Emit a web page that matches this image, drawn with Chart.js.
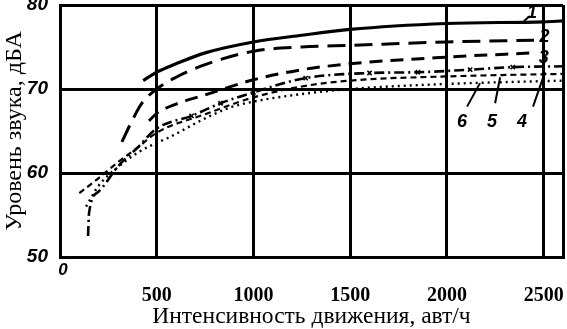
<!DOCTYPE html>
<html>
<head>
<meta charset="utf-8">
<script src="https://cdn.jsdelivr.net/npm/chart.js@4"></script>
<style>
html,body{margin:0;padding:0;background:#fff;}
#wrap{width:567px;height:329px;}
</style>
</head>
<body>
<div id="wrap"><canvas id="c" width="567" height="329"></canvas></div>
<script>
// ---- data ----
const xTicks = [0, 500, 1000, 1500, 2000, 2500];
const yTicks = [50, 60, 70, 80];
const seriesNames = ['1', '2', '3', '4', '5', '6'];

const c1x = [430, 500, 600, 750, 1000, 1250, 1500, 2000, 2500, 2600];
const c1y = [71.0, 72.0, 73.0, 74.3, 75.6, 76.4, 77.1, 77.8, 78.0, 78.1];

const c2x = [320, 370, 420, 500, 600, 750, 1000, 1250, 1500, 2000, 2450];
const c2y = [63.7, 66.1, 68.2, 70.0, 71.4, 72.9, 74.5, 75.0, 75.2, 75.6, 75.8];

const c3x = [460, 500, 600, 750, 1000, 1250, 1500, 2000, 2450];
const c3y = [66.2, 67.1, 68.2, 69.3, 71.1, 72.3, 73.0, 73.8, 74.3];

const c4x = [145, 150, 200, 300, 400, 500, 680, 830, 1000, 1270, 1600, 1850, 2120, 2340, 2600];
const c4y = [52.5, 55.2, 57.8, 60.8, 63.0, 65.3, 66.8, 68.3, 69.6, 71.3, 71.9, 72.0, 72.3, 72.6, 72.7];

const c5x = [100, 200, 300, 400, 500, 750, 1000, 1250, 1500, 2000, 2600];
const c5y = [57.6, 59.4, 61.3, 63.0, 64.8, 67.0, 69.0, 70.3, 71.0, 71.5, 71.8];

const c6x = [135, 200, 300, 400, 500, 560, 750, 880, 1000, 1250, 1500, 2000, 2600];
const c6y = [56.0, 58.5, 60.7, 62.4, 63.6, 64.2, 66.5, 67.8, 68.5, 69.4, 70.0, 70.6, 71.0];

const xTitle = 'Интенсивность движения, авт/ч';
const yTitle = 'Уровень звука, дБА';

// ---- build ----
function pts(xs, ys){ return xs.map((v,i)=>({x:v, y:ys[i]})); }
const xs = [c1x,c2x,c3x,c4x,c5x,c6x];
const ys = [c1y,c2y,c3y,c4y,c5y,c6y];
const dashes = [[], [18,9], [13,8], [10,4,2,4], [6,4], [2,4]];
const widths = [3.2, 3, 3, 2.6, 2.2, 2.4];

const datasets = seriesNames.map((n,i)=>({
  label: n,
  data: pts(xs[i], ys[i]),
  borderColor: '#000',
  backgroundColor: '#000',
  borderWidth: widths[i],
  borderDash: dashes[i],
  cubicInterpolationMode: 'monotone',
  pointRadius: i===3 ? (ctx)=> (ctx.raw && ctx.raw.x>=600 && ctx.raw.x<=2400 ? 3 : 0) : 0,
  pointStyle: 'crossRot',
  pointBorderWidth: 1.6,
  fill: false
}));

const labelPlugin = {
  id: 'curveLabels',
  afterDatasetsDraw(chart){
    const {ctx, scales:{x, y}} = chart;
    ctx.save();
    ctx.fillStyle = '#000';
    ctx.strokeStyle = '#000';
    ctx.lineWidth = 2;
    ctx.font = 'italic bold 18px "Liberation Sans", Arial, sans-serif';
    ctx.textAlign = 'center';
    ctx.textBaseline = 'middle';
    const labels = [
      {t:'1', p:[2440,79.05], l:[[2398,78.1],[2429,78.7]]},
      {t:'2', p:[2505,76.2]},
      {t:'3', p:[2500,73.7]},
      {t:'4', p:[2388,66.1], l:[[2445,67.9],[2507,72.0]]},
      {t:'5', p:[2233,66.1], l:[[2249,68.3],[2275,71.4]]},
      {t:'6', p:[2078,66.1], l:[[2104,67.9],[2171,70.7]]}
    ];
    labels.forEach(o=>{
      if (o.l){
        ctx.beginPath();
        ctx.moveTo(x.getPixelForValue(o.l[0][0]), y.getPixelForValue(o.l[0][1]));
        ctx.lineTo(x.getPixelForValue(o.l[1][0]), y.getPixelForValue(o.l[1][1]));
        ctx.stroke();
      }
      ctx.fillText(o.t, x.getPixelForValue(o.p[0]), y.getPixelForValue(o.p[1]));
    });
    // origin "0" label
    ctx.font = 'italic bold 17px "Liberation Sans", Arial, sans-serif';
    ctx.fillText(String(xTicks[0]), x.getPixelForValue(xTicks[0]) + 3, y.bottom + 13);
    ctx.restore();
  }
};

new Chart(document.getElementById('c'), {
  type: 'line',
  data: { datasets },
  options: {
    responsive: false,
    animation: false,
    devicePixelRatio: 1,
    layout: { padding: { top: 5, right: 4, left: 0, bottom: 0 } },
    plugins: { legend: { display: false }, tooltip: { enabled: false } },
    scales: {
      x: {
        type: 'linear',
        min: 0, max: 2600,
        afterBuildTicks(scale){
          scale.ticks = xTicks.concat([2600]).map(v=>({value:v}));
        },
        afterFit(scale){
          scale.height = 72;
          scale.paddingLeft = 0; scale.paddingRight = 0;
          scale.paddingTop = 0; scale.paddingBottom = 0;
        },
        grid: { color: '#000', lineWidth: 3, drawTicks: false },
        border: { display: true, color: '#000', width: 3 },
        ticks: {
          padding: 27,
          color: '#000',
          maxRotation: 0,
          autoSkip: false,
          font: { family: '"Liberation Serif", "Times New Roman", serif', size: 20, weight: 'bold' },
          callback: (v)=> (v === 0 || v === 2600) ? '' : String(v)
        },
        title: {
          display: true, text: xTitle, color: '#000',
          font: { family: '"Liberation Serif", "Times New Roman", serif', size: 23.5, lineHeight: 1.0 },
          padding: { top: 0, bottom: 0 }
        }
      },
      y: {
        min: 50, max: 80,
        afterBuildTicks(scale){ scale.ticks = yTicks.map(v=>({value:v})); },
        afterFit(scale){
          scale.width = 60;
          scale.paddingLeft = 0; scale.paddingRight = 0;
          scale.paddingTop = 0; scale.paddingBottom = 0;
        },
        grid: { color: '#000', lineWidth: 3, drawTicks: false },
        border: { display: true, color: '#000', width: 3 },
        ticks: {
          padding: 12,
          align: 'inner',
          color: '#000',
          font: { family: '"Liberation Sans", Arial, sans-serif', size: 19, weight: 'bold', style: 'italic' }
        },
        title: {
          display: true, text: yTitle, color: '#000',
          font: { family: '"Liberation Serif", "Times New Roman", serif', size: 24, lineHeight: 1.0 },
          padding: { top: 3, bottom: 0 }
        }
      }
    }
  },
  plugins: [labelPlugin]
});
</script>
</body>
</html>
